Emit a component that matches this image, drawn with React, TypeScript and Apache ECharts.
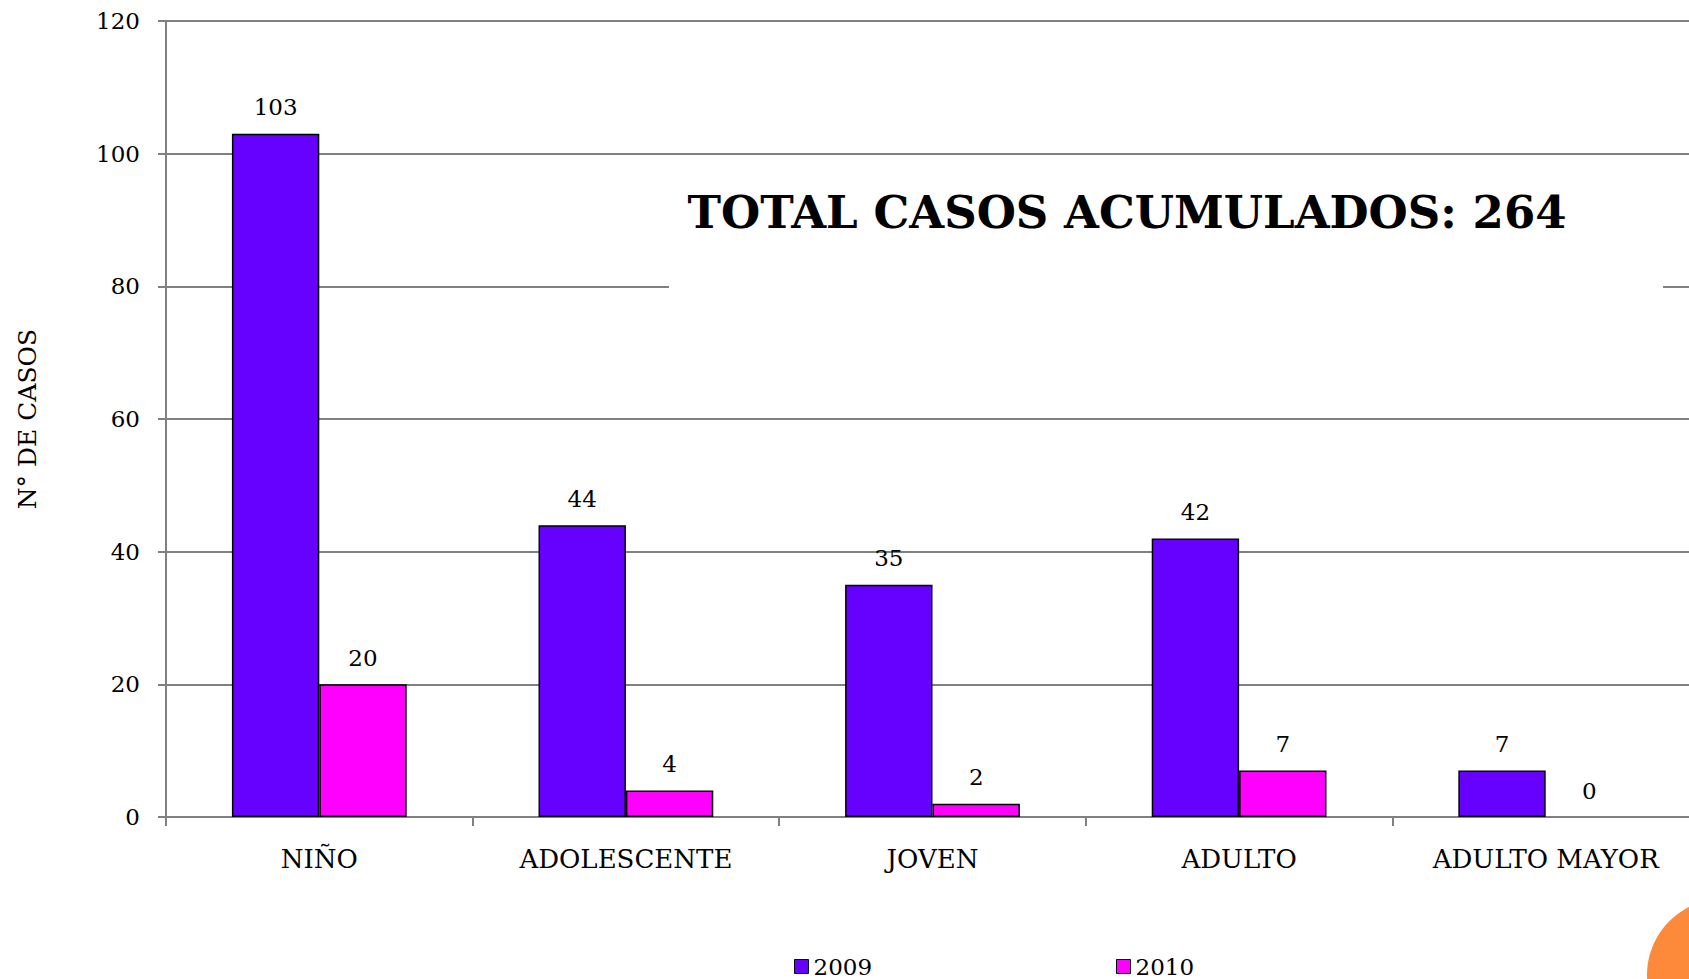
import React, { useEffect, useRef } from "react";
import * as echarts from "echarts";

const categories = ["NIÑO", "ADOLESCENTE", "JOVEN", "ADULTO", "ADULTO MAYOR"];
const values2009 = [103, 44, 35, 42, 7];
const values2010 = [20, 4, 2, 7, 0];
const seriesNames = ["2009", "2010"];
const yTicks = { min: 0, max: 120, interval: 20 };
const titleText = "TOTAL CASOS ACUMULADOS: 264";
const yAxisTitle = "N° DE CASOS";

const FONT = "DejaVu Serif";
const COLOR_2009 = "#6600FF";
const COLOR_2010 = "#FF00FF";
const GRID_COLOR = "#808080";

const toItems = (arr: number[]) =>
  arr.map((v) => (v === 0 ? { value: v, itemStyle: { borderWidth: 0 } } : v));

export default function App() {
  const ref = useRef<HTMLDivElement>(null);
  useEffect(() => {
    if (!ref.current) return;
    const chart = echarts.init(ref.current, null, { renderer: "svg" });
    const labelStyle = {
      show: true,
      position: "top",
      distance: 15,
      color: "#000",
      fontFamily: FONT,
      fontSize: 23,
    };
    const legendBase = {
      icon: "rect",
      top: 955,
      itemWidth: 14,
      itemHeight: 14,
      itemGap: 0,
      padding: 0,
      itemStyle: { borderColor: "#000", borderWidth: 1 },
      textStyle: { fontFamily: FONT, fontSize: 23, lineHeight: 22, color: "#000", padding: [0, 0, 0, 0] },
    };
    chart.setOption({
      animation: false,
      backgroundColor: "#ffffff",
      textStyle: { fontFamily: FONT },
      grid: {
        left: 166,
        top: 21,
        bottom: 162,
        right: -10,
        containLabel: false,
        outerBoundsMode: "none",
      },
      legend: [
        { ...legendBase, data: [seriesNames[0]], left: 794 },
        { ...legendBase, data: [seriesNames[1]], left: 1116 },
      ],
      xAxis: {
        type: "category",
        data: categories,
        axisLine: { show: true, lineStyle: { color: GRID_COLOR, width: 2 } },
        axisTick: { show: true, length: 9, alignWithLabel: false, lineStyle: { color: GRID_COLOR, width: 2 } },
        axisLabel: { color: "#000", fontFamily: FONT, fontSize: 26, margin: 29, interval: 0 },
        splitLine: { show: false },
      },
      yAxis: {
        type: "value",
        min: yTicks.min,
        max: yTicks.max,
        interval: yTicks.interval,
        name: yAxisTitle,
        nameLocation: "middle",
        nameGap: 126,
        nameRotate: 90,
        nameTextStyle: { color: "#000", fontFamily: FONT, fontSize: 25 },
        axisLine: { show: true, lineStyle: { color: GRID_COLOR, width: 2 } },
        axisTick: { show: true, length: 8, lineStyle: { color: GRID_COLOR, width: 2 } },
        axisLabel: { color: "#000", fontFamily: FONT, fontSize: 23, margin: 26 },
        splitLine: { show: true, lineStyle: { color: GRID_COLOR, width: 2 } },
      },
      series: [
        {
          name: seriesNames[0],
          type: "bar",
          data: toItems(values2009),
          barGap: "0%",
          barCategoryGap: "43%",
          itemStyle: { color: COLOR_2009, borderColor: "#000", borderWidth: 1.5 },
          label: labelStyle,
        },
        {
          name: seriesNames[1],
          type: "bar",
          data: toItems(values2010),
          barGap: "0%",
          barCategoryGap: "43%",
          itemStyle: { color: COLOR_2010, borderColor: "#000", borderWidth: 1.5 },
          label: labelStyle,
        },
      ],
      graphic: [
        {
          type: "rect",
          shape: { x: 669, y: 165, width: 994, height: 130 },
          style: { fill: "#ffffff" },
          z: 10,
        },
        {
          type: "text",
          x: 1127,
          y: 212,
          z: 11,
          style: {
            text: titleText,
            fontFamily: FONT,
            fontWeight: "bold",
            fontSize: 45,
            fill: "#000",
            align: "center",
            verticalAlign: "middle",
          },
        },
        {
          type: "circle",
          shape: { cx: 1723, cy: 975, r: 76 },
          style: { fill: "#FD8A3A" },
          z: 10,
        },
      ],
    });
    return () => chart.dispose();
  }, []);
  return (
    <div
      ref={ref}
      style={{ position: "absolute", left: 0, top: 0, width: 1689, height: 979, background: "#fff" }}
    />
  );
}
